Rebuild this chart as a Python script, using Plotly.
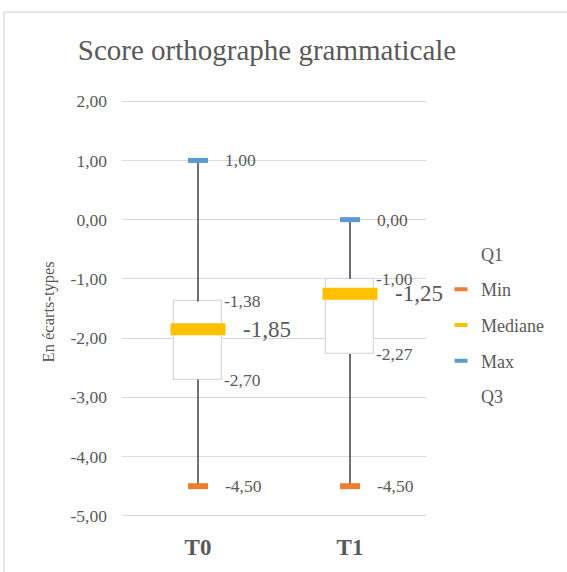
import plotly.graph_objects as go

# ---- data ----
categories = ["T0", "T1"]
q1_values = [-1.38, -1.00]      # top of box
q3_values = [-2.70, -2.27]      # bottom of box
min_values = [-4.50, -4.50]
median_values = [-1.85, -1.25]
max_values = [1.00, 0.00]
y_ticks = [2, 1, 0, -1, -2, -3, -4, -5]

TXT = "#595959"
FONT = "Liberation Serif"
GRID = "#d9d9d9"
C_MIN = "#ed7d31"
C_MED = "#ffc000"
C_MAX = "#5b9bd5"

def fmt(v):
    return f"{v:.2f}".replace(".", ",")

xpos = list(range(len(categories)))

# plot area in pixels
L, R, T, B = 122, 426, 100, 522
K = 1 / 1.4  # plotly line-ew marker spans 1.4 * size

fig = go.Figure()

# whiskers (split so the box is not crossed)
wx, wy = [], []
for i in xpos:
    wx += [i, i, None, i, i, None]
    wy += [min_values[i], q3_values[i], None, q1_values[i], max_values[i], None]
fig.add_trace(go.Scatter(x=wx, y=wy, mode="lines", line=dict(color="#404040", width=1.5),
                         showlegend=False, hoverinfo="skip"))

# boxes
fig.add_trace(go.Bar(x=xpos, base=q3_values,
                     y=[a - b for a, b in zip(q1_values, q3_values)],
                     width=0.32, marker=dict(color="white", line=dict(color=GRID, width=1.2)),
                     showlegend=False, hoverinfo="skip"))

# markers
fig.add_trace(go.Scatter(x=xpos, y=median_values, mode="markers", showlegend=False,
                         marker=dict(symbol="line-ew", size=55 * K, line=dict(color=C_MED, width=12))))
fig.add_trace(go.Scatter(x=xpos, y=max_values, mode="markers", showlegend=False,
                         marker=dict(symbol="line-ew", size=20 * K, line=dict(color=C_MAX, width=5))))
fig.add_trace(go.Scatter(x=xpos, y=min_values, mode="markers", showlegend=False,
                         marker=dict(symbol="line-ew", size=20 * K, line=dict(color=C_MIN, width=6))))

# legend entries
legend_items = [("Q1", None), ("Min", C_MIN), ("Mediane", C_MED), ("Max", C_MAX), ("Q3", None)]
for k, (name, col) in enumerate(legend_items):
    c = col if col is not None else "rgba(0,0,0,0)"
    mk = dict(symbol="line-ew", size=13 * K, line=dict(color=c, width=4))
    fig.add_trace(go.Scatter(x=[None], y=[None], mode="markers", name=name, marker=mk,
                             legendgroup=f"g{k}"))

# data labels
ann = []
for i in xpos:
    for v, dx, size in [(max_values[i], 25, 17.5), (min_values[i], 25, 17.5),
                        (q1_values[i], 24, 17.5), (q3_values[i], 24, 17.5),
                        (median_values[i], 43, 23)]:
        ann.append(dict(x=i, y=v, xref="x", yref="y", text=fmt(v), showarrow=False,
                        xanchor="left", yanchor="middle", xshift=dx,
                        font=dict(family=FONT, size=size, color=TXT)))
# y axis title
ann.append(dict(x=(48 - L) / (R - L), y=(B - 315) / (B - T), xref="paper", yref="paper",
                text="En écarts-types", textangle=-90, showarrow=False,
                xanchor="center", yanchor="middle",
                font=dict(family=FONT, size=16.5, color=TXT)))

fig.update_layout(
    width=567, height=572,
    margin=dict(l=L, r=567 - R, t=T, b=572 - B),
    paper_bgcolor="white", plot_bgcolor="white",
    font=dict(family=FONT, color=TXT),
    title=dict(text="Score orthographe grammaticale", x=267 / 567, xanchor="center",
               y=1 - 50 / 572, yanchor="middle", yref="container",
               font=dict(family=FONT, size=29, color=TXT)),
    xaxis=dict(range=[-0.5, 1.5], tickvals=xpos, ticktext=[f"<b>{c}</b>" for c in categories],
               showgrid=False, zeroline=False, showline=False, ticks="",
               tickfont=dict(family=FONT, size=23, color=TXT), ticklabelstandoff=14),
    yaxis=dict(range=[-5.02, 2.02], tickvals=y_ticks, ticktext=[fmt(v) for v in y_ticks],
               showgrid=True, gridcolor=GRID, gridwidth=1.3, zeroline=False, showline=False,
               ticks="", tickfont=dict(family=FONT, size=17.5, color=TXT), ticklabelstandoff=14),
    showlegend=True,
    legend=dict(x=(441 - L) / (R - L), xanchor="left", y=(B - 237) / (B - T), yanchor="top",
                traceorder="grouped", tracegroupgap=9.3, bgcolor="rgba(0,0,0,0)",
                font=dict(family=FONT, size=18, color=TXT), itemwidth=30),
    annotations=ann,
    shapes=[dict(type="rect", xref="paper", yref="paper",
                 x0=(4 - L) / (R - L), x1=2.0, y0=-1.0, y1=(B - 11) / (B - T),
                 line=dict(color=GRID, width=1.3), fillcolor="rgba(0,0,0,0)", layer="below")],
    bargap=0,
)

fig.write_html("out.html", config={"displayModeBar": False},
               post_script="document.body.style.margin='0';document.body.style.overflow='hidden';")
